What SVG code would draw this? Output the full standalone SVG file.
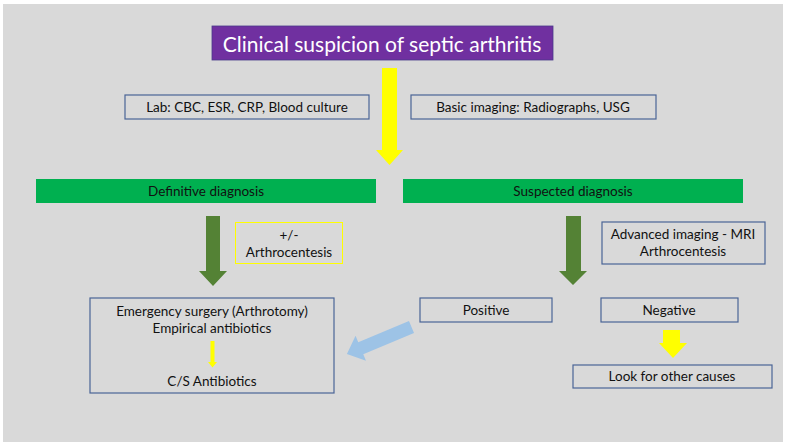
<svg xmlns="http://www.w3.org/2000/svg" width="787" height="445" viewBox="0 0 787 445">
  <style>
    .t { font-family: Lato, "Open Sans", "Liberation Sans", sans-serif; font-size: 13.5px; fill: #111; text-anchor: middle; dominant-baseline: central; }
    .title { font-family: Lato, "Open Sans", "Liberation Sans", sans-serif; font-size: 21px; fill: #ffffff; text-anchor: middle; dominant-baseline: central; }
    .box { fill: none; stroke: #4a6496; stroke-width: 1.2; }
    .green { fill: #00b050; }
    .garrow { fill: #548235; }
    .yarrow { fill: #ffff00; }
  </style>
  <rect x="0" y="0" width="787" height="445" fill="#ffffff"/>
  <rect x="3" y="4" width="780" height="438" fill="#d9d9d9"/>

  <g id="connectors">
    <polygon class="yarrow" points="382,68 397,68 397,150 403,150 389.5,165 376,150 382,150"/>
    <polygon class="garrow" points="206,216 220,216 220,271 227,271 213,286 199,271 206,271"/>
    <polygon class="garrow" points="566,216 581,216 581,271 587,271 573,285 559,271 566,271"/>
    <polygon class="yarrow" points="210.5,341 214.5,341 214.5,362 217,362 212.5,367.5 208,362 210.5,362"/>
    <polygon class="yarrow" points="663,330 680,330 680,343 687,343 673,358 659,343 663,343"/>
    <polygon fill="#9dc3e6" transform="translate(411.5,327) rotate(157.3)" points="0,-6.5 55,-6.5 55,-13.5 70,0 55,13.5 55,6.5 0,6.5"/>
  </g>

  <g id="title">
    <rect x="212" y="26" width="341" height="34" fill="#7030a0" stroke="#4a3a8a" stroke-width="0.8"/>
    <text class="title" x="382" y="43">Clinical suspicion of septic arthritis</text>
  </g>
  <g id="lab">
    <rect class="box" x="125" y="95" width="244" height="24"/>
    <text class="t" x="247" y="107">Lab: CBC, ESR, CRP, Blood culture</text>
  </g>
  <g id="basic-imaging">
    <rect class="box" x="411" y="95" width="245" height="24"/>
    <text class="t" x="533" y="107">Basic imaging: Radiographs, USG</text>
  </g>
  <g id="definitive">
    <rect class="green" x="36" y="179" width="340" height="24"/>
    <text class="t" x="206" y="191">Definitive diagnosis</text>
  </g>
  <g id="suspected">
    <rect class="green" x="403" y="179" width="340" height="24"/>
    <text class="t" x="573" y="191">Suspected diagnosis</text>
  </g>
  <g id="arthrocentesis-optional">
    <rect x="235.5" y="222.5" width="107" height="41" fill="none" stroke="#ffff00" stroke-width="1"/>
    <text class="t" x="289" y="235">+/-</text>
    <text class="t" x="289" y="252">Arthrocentesis</text>
  </g>
  <g id="advanced-imaging">
    <rect class="box" x="602" y="222" width="163" height="42"/>
    <text class="t" x="683" y="234">Advanced imaging - MRI</text>
    <text class="t" x="683" y="251">Arthrocentesis</text>
  </g>
  <g id="emergency">
    <rect class="box" x="90" y="298" width="244" height="95"/>
    <text class="t" x="212" y="311">Emergency surgery (Arthrotomy)</text>
    <text class="t" x="212" y="328">Empirical antibiotics</text>
    <text class="t" x="212" y="381">C/S Antibiotics</text>
  </g>
  <g id="positive">
    <rect class="box" x="420" y="298" width="132" height="24"/>
    <text class="t" x="486" y="310">Positive</text>
  </g>
  <g id="negative">
    <rect class="box" x="601" y="298" width="137" height="24"/>
    <text class="t" x="669" y="310">Negative</text>
  </g>
  <g id="other-causes">
    <rect class="box" x="573" y="365" width="199" height="23"/>
    <text class="t" x="672" y="376">Look for other causes</text>
  </g>
</svg>
